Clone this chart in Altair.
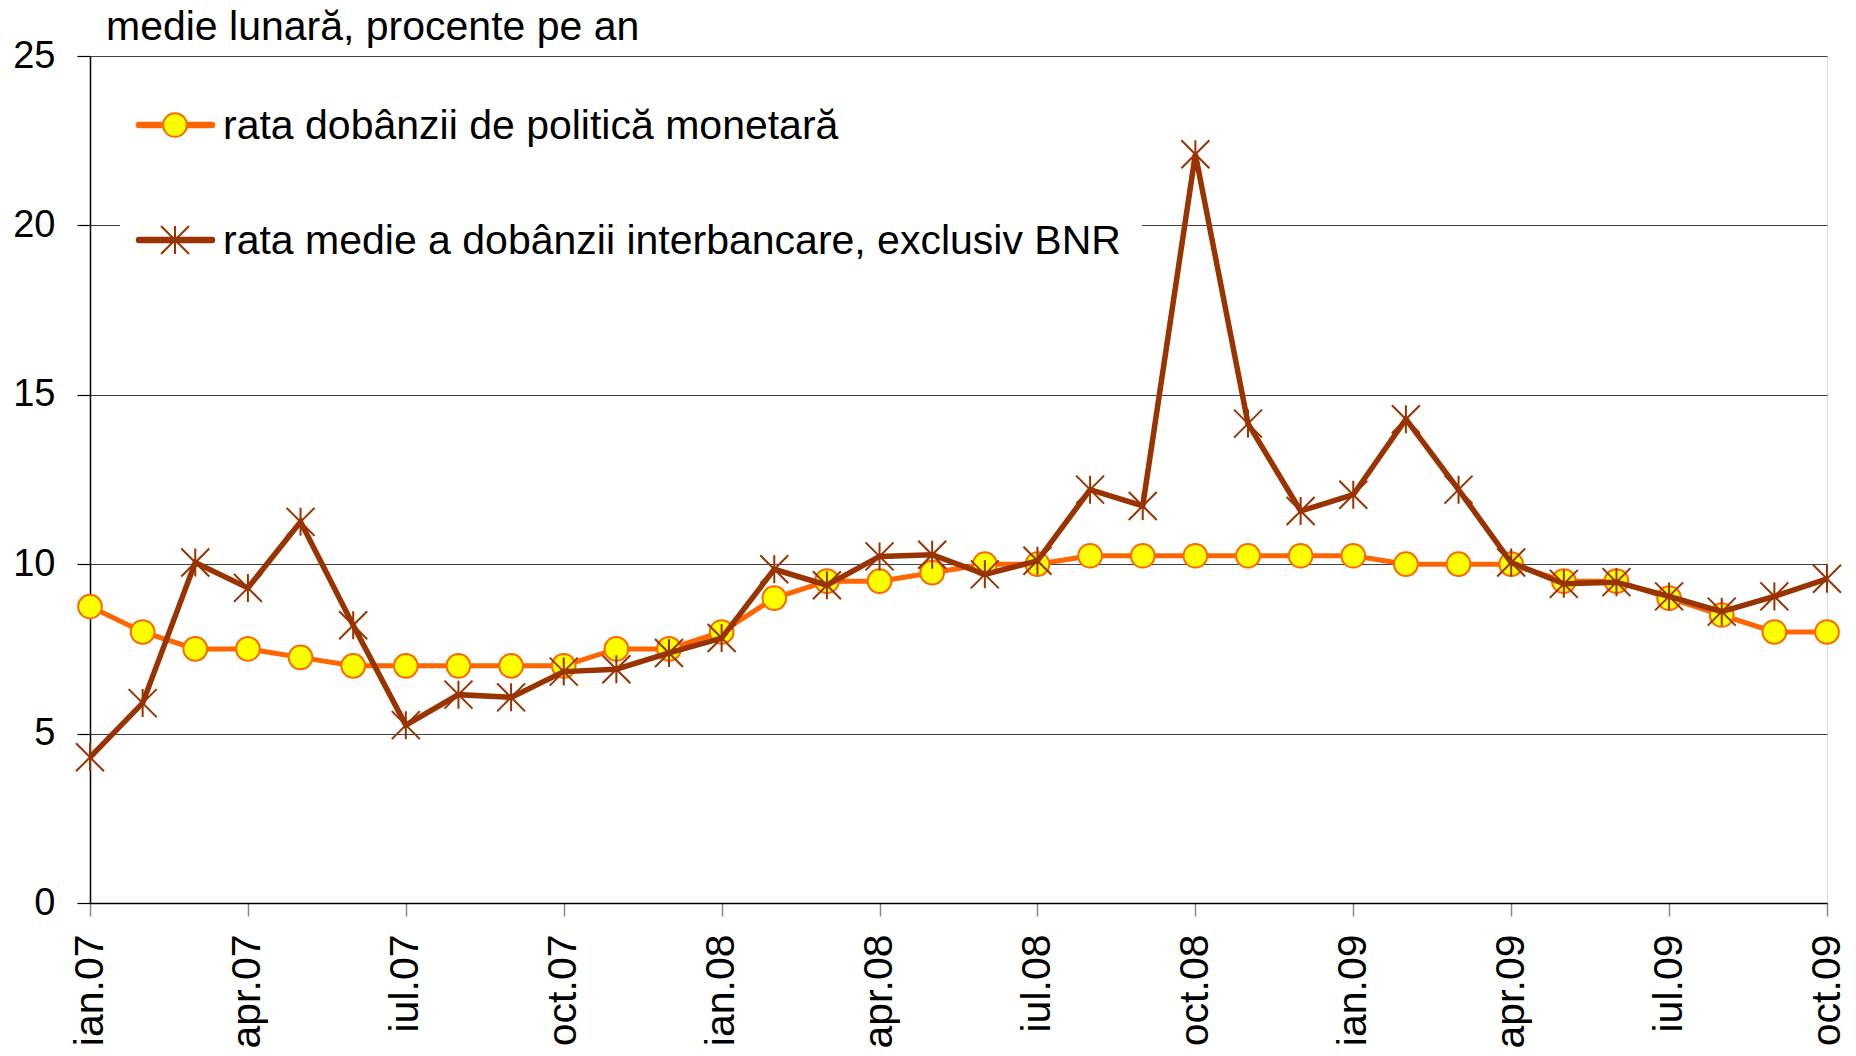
import altair as alt
import pandas as pd

# ---- data ----
months = [
    "ian.07", "feb.07", "mar.07", "apr.07", "mai.07", "iun.07", "iul.07", "aug.07", "sep.07", "oct.07", "nov.07", "dec.07",
    "ian.08", "feb.08", "mar.08", "apr.08", "mai.08", "iun.08", "iul.08", "aug.08", "sep.08", "oct.08", "nov.08", "dec.08",
    "ian.09", "feb.09", "mar.09", "apr.09", "mai.09", "iun.09", "iul.09", "aug.09", "sep.09", "oct.09",
]
policy_rate = [
    8.75, 8.0, 7.5, 7.5, 7.25, 7.0, 7.0, 7.0, 7.0, 7.0, 7.5, 7.5,
    8.0, 9.0, 9.5, 9.5, 9.75, 10.0, 10.0, 10.25, 10.25, 10.25, 10.25, 10.25,
    10.25, 10.0, 10.0, 10.0, 9.5, 9.5, 9.0, 8.5, 8.0, 8.0,
]
interbank_rate = [
    4.3, 5.9, 10.05, 9.3, 11.25, 8.2, 5.25, 6.15, 6.07, 6.83, 6.9, 7.38,
    7.82, 9.85, 9.38, 10.23, 10.28, 9.7, 10.1, 12.2, 11.72, 22.1, 14.15, 11.57,
    12.05, 14.28, 12.2, 10.05, 9.42, 9.47, 9.05, 8.6, 9.05, 9.57,
]
series_names = [
    "rata dobânzii de politică monetară",
    "rata medie a dobânzii interbancare, exclusiv BNR",
]
quarter_labels = months[::3]
y_ticks = [0, 5, 10, 15, 20, 25]
title_text = "medie lunară, procente pe an"

FONT = "Liberation Sans"
FS_TEXT = 41
FS_Y = 38
FS_X = 41
ORANGE = "#FF6600"
YELLOW = "#FFFF00"
BROWN = "#993300"
STAR = "M-1,-1L1,1M1,-1L-1,1M0,-1L0,1"

df = pd.DataFrame({"luna": months, "policy": policy_rate, "interbank": interbank_rate})

x_enc = alt.X(
    "luna:O",
    sort=months,
    scale=alt.Scale(type="point", padding=0),
    axis=alt.Axis(
        values=quarter_labels, labelAngle=270, title=None, grid=False,
        tickSize=13, tickColor="#888888", tickWidth=1.5,
        domainColor="black", domainWidth=1.5,
        labelPadding=18, labelFontSize=FS_X, labelFont=FONT, labelColor="black",
    ),
)
y_scale = alt.Scale(domain=[0, 25], nice=False)
y_axis = alt.Axis(
    values=y_ticks, title=None, grid=True, gridColor="#404040", gridWidth=1,
    tickSize=13, tickColor="black", tickWidth=1.2,
    domainColor="black", domainWidth=1.5,
    labelPadding=22, labelFontSize=FS_Y, labelFont=FONT, labelColor="black",
)

base = alt.Chart(df)

policy_line = base.mark_line(color=ORANGE, strokeWidth=5).encode(
    x=x_enc, y=alt.Y("policy:Q", scale=y_scale, axis=y_axis)
)
policy_pts = base.mark_point(
    shape="circle", filled=True, fill=YELLOW, stroke=ORANGE, strokeWidth=2, size=560, opacity=1
).encode(x=x_enc, y=alt.Y("policy:Q", scale=y_scale))
inter_line = base.mark_line(color=BROWN, strokeWidth=5.5).encode(
    x=x_enc, y=alt.Y("interbank:Q", scale=y_scale)
)
inter_pts = base.mark_point(
    shape=STAR, filled=False, stroke=BROWN, strokeWidth=2, size=784, opacity=1
).encode(x=x_enc, y=alt.Y("interbank:Q", scale=y_scale))

# ---- title as a text mark above the plot ----
title_df = pd.DataFrame({"t": [title_text]})
title_mark = alt.Chart(title_df).mark_text(
    align="left", baseline="alphabetic", font=FONT, fontSize=FS_TEXT, color="black"
).encode(x=alt.value(16), y=alt.value(-16), text="t:N")

# ---- legend (drawn by hand, white box over the grid) ----
one = pd.DataFrame({"k": [0]})
leg_box = alt.Chart(one).mark_rect(fill="white").encode(
    x=alt.value(30), x2=alt.value(1052), y=alt.value(30), y2=alt.value(215)
)
leg_layers = [leg_box]
leg_y = [69, 184]
for i, name in enumerate(series_names):
    col = ORANGE if i == 0 else BROWN
    ldf = pd.DataFrame({"name": [name]})
    leg_layers.append(
        alt.Chart(ldf).mark_rule(color=col, strokeWidth=6.5, strokeCap="round").encode(
            x=alt.value(49), x2=alt.value(122), y=alt.value(leg_y[i])
        )
    )
    if i == 0:
        leg_layers.append(
            alt.Chart(ldf).mark_point(
                shape="circle", filled=True, fill=YELLOW, stroke=ORANGE, strokeWidth=2, size=560, opacity=1
            ).encode(x=alt.value(85), y=alt.value(leg_y[i]))
        )
    else:
        leg_layers.append(
            alt.Chart(ldf).mark_point(
                shape=STAR, filled=False, stroke=BROWN, strokeWidth=2, size=784, opacity=1
            ).encode(x=alt.value(85), y=alt.value(leg_y[i]))
        )
    leg_layers.append(
        alt.Chart(ldf).mark_text(
            align="left", baseline="middle", font=FONT, fontSize=FS_TEXT, color="black", dy=2
        ).encode(x=alt.value(133), y=alt.value(leg_y[i]), text="name:N")
    )

chart = alt.layer(
    policy_line, policy_pts, inter_line, inter_pts, title_mark, *leg_layers
).properties(
    width=1737,
    height=847,
    autosize=alt.AutoSizeParams(type="none"),
    padding={"left": 82, "top": 48, "right": 21, "bottom": 145},
).configure_view(stroke="#222222", strokeWidth=1.5).configure(background="white")

chart.save("out.html", embed_options={"renderer": "svg", "actions": False})
